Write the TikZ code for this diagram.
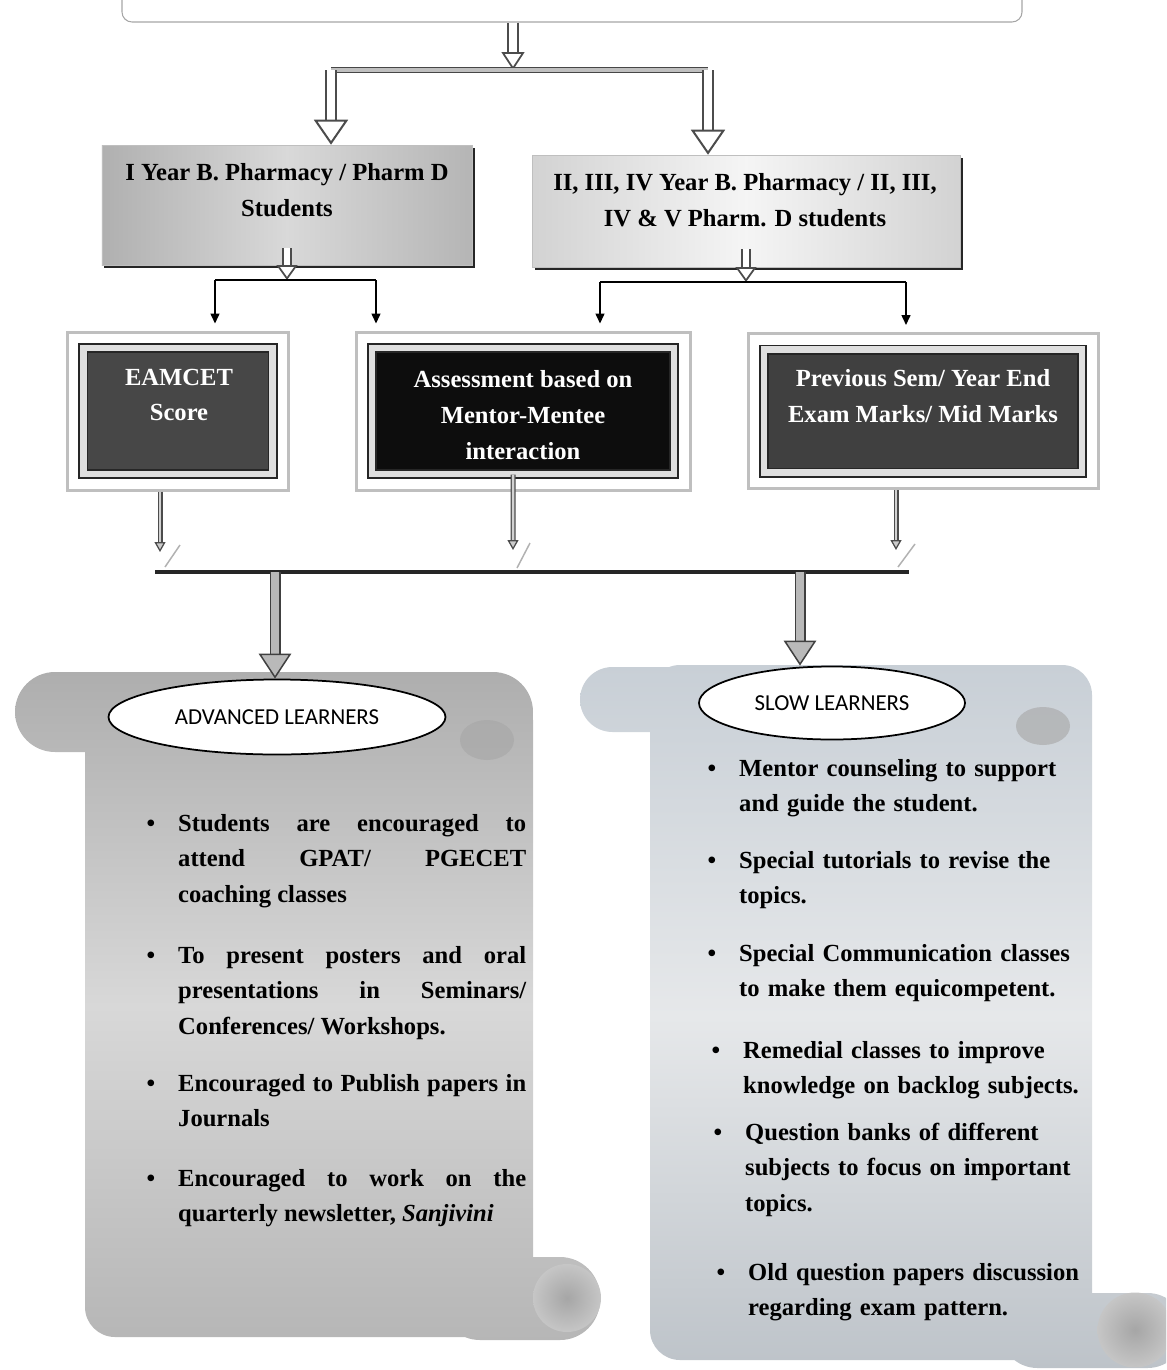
\documentclass[tikz,border=0pt]{standalone}
\usepackage{fontspec}
\setmainfont{Liberation Serif}
\newfontfamily\calibri{Carlito}
\usetikzlibrary{arrows.meta}
\usetikzlibrary{shapes.geometric}
\usetikzlibrary{shadows}

\definecolor{scrollgrey}{RGB}{174,174,174}
\definecolor{scrolllight}{RGB}{216,216,216}
\definecolor{scrollblue}{RGB}{200,207,214}
\definecolor{scrollpale}{RGB}{230,232,234}

\newcommand{\itembullet}{\leavevmode\llap{\textbullet\hspace{4.6mm}}}

\tikzset{
  boxfont/.style={font=\bfseries\fontsize{14}{20.3}\selectfont},
  topbox/.style={draw=gray!70, line width=0.6pt, rounded corners=2mm, fill=white,
    minimum width=180mm, minimum height=12.4mm},
  yearbox/.style={draw=gray!50, line width=0.3pt, inner sep=0pt,
    drop shadow={shadow xshift=0.5mm, shadow yshift=-0.6mm, fill=black!85, opacity=1}},
  boxtext/.style={boxfont, align=center},
  frameout/.style={draw=gray!50, line width=0.6mm, fill=white, inner sep=0pt},
  framein/.style={draw=black!85, line width=0.35mm, double=gray!25,
    double distance=1.3mm, inner sep=0pt},
  frametext/.style={boxfont, align=center, text=white},
  tag/.style={ellipse, draw, line width=0.35mm, fill=white, inner sep=0pt,
    font=\calibri\fontsize{13}{15}\selectfont},
  hollow/.style={draw=black!70, line width=0.4mm, double=white, double distance=1.6mm,
    -{Triangle[fill=white, line width=0.4mm, length=5mm, width=6.8mm]}},
  hollowsmall/.style={draw=black!70, line width=0.35mm, double=white, double distance=1.2mm,
    -{Triangle[fill=white, line width=0.35mm, length=3mm, width=4.2mm]}},
  topbar/.style={draw=gray!55!black, line width=0.2mm, double=gray!50, double distance=0.7mm},
  link/.style={draw=black, line width=0.3mm},
  pointer/.style={link, shorten >=1.4mm, -{Triangle[length=2mm, width=1.8mm]}},
  feed/.style={draw=gray!60!black, line width=0.25mm, double=gray!35, double distance=0.5mm,
    -{Triangle[fill=gray!40, line width=0.25mm, length=2mm, width=2.2mm]}},
  mainbar/.style={draw=black!85, line width=0.7mm},
  fat/.style={draw=black!75, line width=0.3mm, double=gray!55, double distance=1.6mm,
    -{Triangle[fill=gray!55, line width=0.3mm, length=5mm, width=6.5mm]}},
  advitem/.style={anchor=base west, text width=69.6mm, align=justify, boxfont},
  slowitem/.style={anchor=base west, text width=75mm, align=left, boxfont}
}

\begin{document}
\begin{tikzpicture}[x=0.2mm, y=-0.2mm]
\clip (0,0) rectangle (1166,1370);

% scrolls
\shade[top color=scrollgrey, bottom color=scrollgrey!90, middle color=scrolllight]
  (85,690) [rounded corners=6mm] rectangle (533,1337)
  (15,672) [rounded corners=8mm] rectangle (533,752)
  (440,1257) [rounded corners=8mm] rectangle (600,1340);
\shade[top color=scrollblue, bottom color=scrollblue!85!gray, middle color=scrollpale]
  (650,665) [rounded corners=6mm] rectangle (1092,1360)
  (580,667) [rounded corners=6.5mm] rectangle (1092,732)
  (1000,1293) [rounded corners=7.5mm] rectangle (1185,1368);
\fill[gray!70, opacity=0.6] (487,740) ellipse [x radius=5.4mm, y radius=4mm];
\fill[gray!70, opacity=0.6] (1043,726) ellipse [x radius=5.4mm, y radius=3.8mm];
\shade[inner color=gray!70, outer color=gray!45] (567,1298) circle [radius=6.8mm];
\shade[inner color=gray!70, outer color=gray!45] (1135,1330) circle [radius=7.5mm];

% boxes
\node[topbox] (top) at (572,-9) {};

\node[yearbox, left color=gray!62, right color=gray!58, middle color=gray!30,
  minimum width=74mm, minimum height=24mm] (yr1) at (287,205) {};
\node[boxtext] at (287,190) {I Year B. Pharmacy / Pharm D\\Students};

\node[yearbox, left color=gray!35, right color=gray!35, middle color=gray!8,
  minimum width=85.6mm, minimum height=22.4mm] (yr2) at (746,211) {};
\node[boxtext] at (745,200) {II, III, IV Year B. Pharmacy / II, III,\\IV \& V Pharm. D students};

\node[frameout, minimum width=44.2mm, minimum height=31.6mm] (eamF) at (178,411) {};
\node[framein, fill=black!72, minimum width=37.8mm, minimum height=25.2mm] (eam) at (eamF) {};
\node[frametext] at (179,395) {EAMCET\\Score};

\node[frameout, minimum width=66.8mm, minimum height=31.6mm] (assessF) at (523,411) {};
\node[framein, fill=black!95, minimum width=60.4mm, minimum height=25.2mm] (assess) at (assessF) {};
\node[frametext] at (523,415) {Assessment based on\\Mentor-Mentee\\interaction};

\node[frameout, minimum width=70mm, minimum height=31mm] (prevF) at (923,411) {};
\node[framein, fill=black!75, minimum width=63.6mm, minimum height=24.6mm] (prev) at (prevF) {};
\node[frametext] at (923,396) {Previous Sem/ Year End\\Exam Marks/ Mid Marks};

\node[tag, minimum width=67.4mm, minimum height=15mm] (adv) at (277,717) {ADVANCED LEARNERS};
\node[tag, minimum width=53.2mm, minimum height=14.6mm] (slow) at (832,703) {SLOW LEARNERS};

% joints
\coordinate (split) at (513,70);
\coordinate (splitL) at (331,70);
\coordinate (splitR) at (708,70);
\coordinate (s1) at (287,280);
\coordinate (s1a) at (215,280);
\coordinate (s1b) at (376,280);
\coordinate (s2) at (746,282);
\coordinate (s2a) at (600,282);
\coordinate (s2b) at (906,282);
\coordinate (f1) at (160,552);
\coordinate (f2) at (513,550);
\coordinate (f3) at (896,550);
\coordinate (bL) at (155,572);
\coordinate (bR) at (909,572);
\coordinate (j1) at (275,572);
\coordinate (j2) at (800,572);

% connectors
\draw[hollow, -{Triangle[fill=white, line width=0.35mm, length=3.6mm, width=4.6mm]}]
  (top.south -| split) -- (split);
\draw[topbar] (splitL) -- (splitR);
\draw[hollow] (splitL) -- (splitL |- yr1.north);
\draw[hollow] (splitR) -- (splitR |- yr2.north);

\draw[hollowsmall] ([yshift=3.4mm]yr1.south) -- (s1);
\draw[link] (s1a) -- (s1b);
\draw[pointer] (s1a) -- (s1a |- eamF.north);
\draw[pointer] (s1b) -- (s1b |- assessF.north);

\draw[hollowsmall] ([yshift=3.6mm]yr2.south) -- (s2);
\draw[link] (s2a) -- (s2b);
\draw[pointer] (s2a) -- (s2a |- assessF.north);
\draw[pointer] (s2b) -- (s2b |- prevF.north);

\draw[feed] (eamF.south -| f1) -- (f1);
\draw[feed] ([xshift=-2mm, yshift=3.4mm]assessF.south) -- (f2);
\draw[feed] (prevF.south -| f3) -- (f3);
\draw[gray!60, line width=0.3mm] (165,567) -- (180,545);
\draw[gray!60, line width=0.3mm] (517,568) -- (530,543);
\draw[gray!60, line width=0.3mm] (898,567) -- (915,544);

\draw[mainbar] (bL) -- (bR);
\draw[fat] (j1) -- (j1 |- adv.north);
\draw[fat] (j2) -- (j2 |- slow.north);

% advanced learners
\node[advitem] (a1) at (172,831) {\itembullet Students are encouraged to\linebreak
  attend GPAT/ PGECET\linebreak coaching classes};
\node[advitem] (a2) at (172,963) {\itembullet To present posters and oral\linebreak
  presentations in Seminars/\linebreak Conferences/ Workshops.};
\node[advitem] (a3) at (172,1091) {\itembullet Encouraged to Publish papers in\linebreak Journals};
\node[advitem] (a4) at (172,1186) {\itembullet Encouraged to work on the\linebreak
  quarterly newsletter, \textit{Sanjivini}};

% slow learners
\node[slowitem] (b1) at (733,776) {\itembullet Mentor counseling to support\\and guide the student.};
\node[slowitem] (b2) at (733,868) {\itembullet Special tutorials to revise the\\topics.};
\node[slowitem] (b3) at (733,961) {\itembullet Special Communication classes\\to make them equicompetent.};
\node[slowitem] (b4) at (737,1058) {\itembullet Remedial classes to improve\\knowledge on backlog subjects.};
\node[slowitem] (b5) at (739,1140) {\itembullet Question banks of different\\subjects to focus on important\\topics.};
\node[slowitem] (b6) at (742,1280) {\itembullet Old question papers discussion\\regarding exam pattern.};
\end{tikzpicture}
\end{document}
